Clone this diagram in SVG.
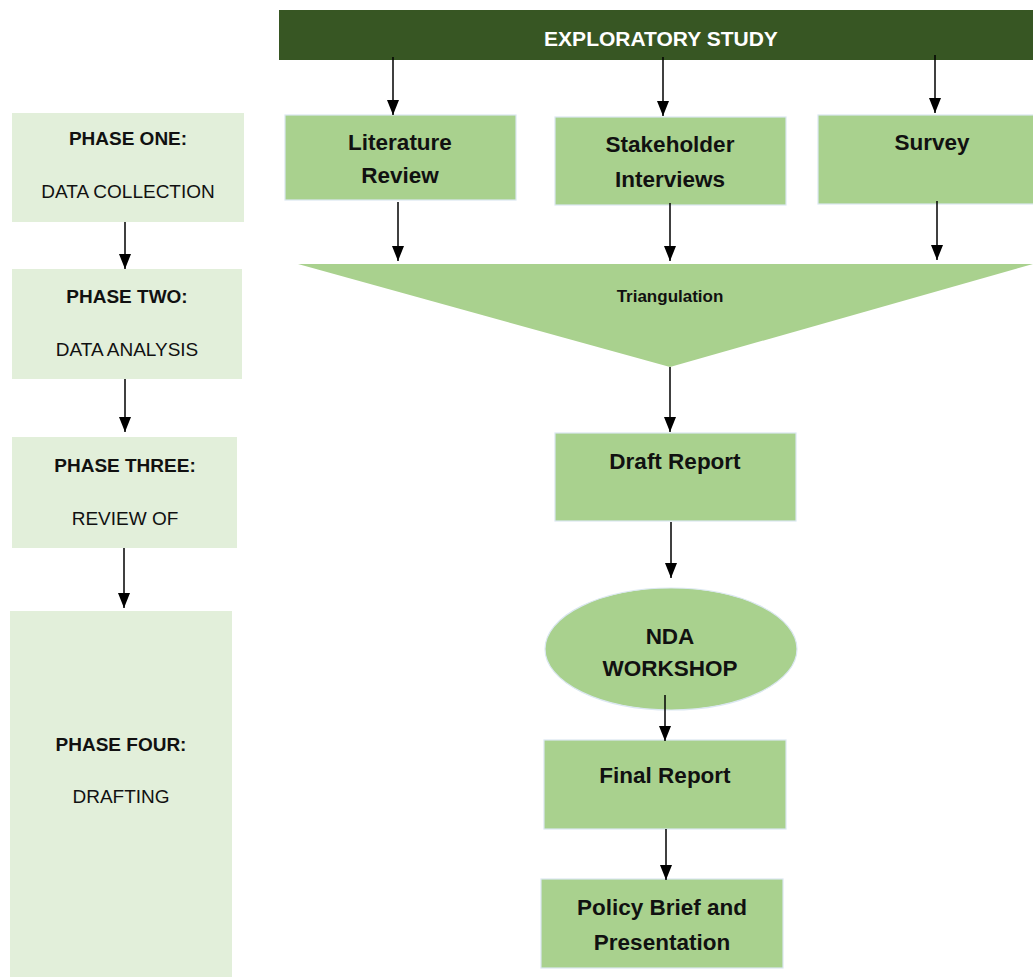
<svg xmlns="http://www.w3.org/2000/svg" width="1033" height="977" viewBox="0 0 1033 977">
<style>
.box{fill:#a9d18e;stroke:#dbe7f1;stroke-width:1.2}
.phase{fill:#e2efda}
.t{font-family:"Liberation Sans",Arial,sans-serif;font-weight:bold;fill:#111;text-anchor:middle}
.lb{font-size:22.5px}
.pb{font-family:"Liberation Sans",Arial,sans-serif;font-weight:bold;font-size:19px;fill:#111;text-anchor:middle}
.pr{font-family:"Liberation Sans",Arial,sans-serif;font-size:19px;fill:#111;text-anchor:middle}
.conn line{stroke:#000;stroke-width:1.5;marker-end:url(#ah)}
</style>
<defs>
<marker id="ah" markerWidth="15" markerHeight="12" refX="15" refY="6" orient="auto" markerUnits="userSpaceOnUse" viewBox="0 0 15 12">
<path d="M0,0 L15,6 L0,12 z" fill="#000"/>
</marker>
</defs>
<rect width="1033" height="977" fill="#fff"/>
<g id="exploratory">
<rect x="279" y="10" width="754" height="50" fill="#375623"/>
<text x="661" y="46" class="t" style="fill:#fff;font-size:21px">EXPLORATORY STUDY</text>
</g>
<g id="literature">
<rect class="box" x="285" y="115" width="231" height="85"/>
<text class="t lb" x="400" y="150">Literature</text>
<text class="t lb" x="400" y="183">Review</text>
</g>
<g id="stakeholder">
<rect class="box" x="555" y="117" width="231" height="88"/>
<text class="t lb" x="670" y="152">Stakeholder</text>
<text class="t lb" x="670" y="187">Interviews</text>
</g>
<g id="survey">
<rect class="box" x="818" y="115" width="220" height="89"/>
<text class="t lb" x="932" y="150">Survey</text>
</g>
<g id="triangulation">
<polygon points="298,264 1033,264 670,367" fill="#a9d18e"/>
<text class="t" style="font-size:17px" x="670" y="302">Triangulation</text>
</g>
<g id="draft">
<rect class="box" x="555" y="433" width="241" height="88"/>
<text class="t lb" x="675" y="469">Draft Report</text>
</g>
<g id="workshop">
<ellipse cx="671" cy="649" rx="126" ry="61" fill="#a9d18e" stroke="#dbe7f1" stroke-width="1.2"/>
<text class="t lb" x="670" y="644">NDA</text>
<text class="t lb" x="670" y="676">WORKSHOP</text>
</g>
<g id="final">
<rect class="box" x="544" y="740" width="242" height="89"/>
<text class="t lb" x="665" y="783">Final Report</text>
</g>
<g id="policy">
<rect class="box" x="541" y="879" width="242" height="89"/>
<text class="t lb" x="662" y="915">Policy Brief and</text>
<text class="t lb" x="662" y="950">Presentation</text>
</g>
<g id="phase1">
<rect class="phase" x="12" y="113" width="232" height="109"/>
<text class="pb" x="128" y="145">PHASE ONE:</text>
<text class="pr" x="128" y="198">DATA COLLECTION</text>
</g>
<g id="phase2">
<rect class="phase" x="12" y="269" width="230" height="110"/>
<text class="pb" x="127" y="303">PHASE TWO:</text>
<text class="pr" x="127" y="356">DATA ANALYSIS</text>
</g>
<g id="phase3">
<rect class="phase" x="12" y="437" width="225" height="111"/>
<text class="pb" x="125" y="472">PHASE THREE:</text>
<text class="pr" x="125" y="525">REVIEW OF</text>
</g>
<g id="phase4">
<rect class="phase" x="10" y="611" width="222" height="366"/>
<text class="pb" x="121" y="751">PHASE FOUR:</text>
<text class="pr" x="121" y="803">DRAFTING</text>
</g>
<g class="conn">
<line x1="393" y1="57" x2="393" y2="115"/>
<line x1="663" y1="57" x2="663" y2="116"/>
<line x1="935" y1="55" x2="935" y2="113"/>
<line x1="398" y1="202" x2="398" y2="261"/>
<line x1="670" y1="203" x2="670" y2="261"/>
<line x1="937" y1="201" x2="937" y2="260"/>
<line x1="670" y1="367" x2="670" y2="432"/>
<line x1="671" y1="522" x2="671" y2="578"/>
<line x1="665" y1="695" x2="665" y2="741"/>
<line x1="666" y1="829" x2="666" y2="880"/>
<line x1="125" y1="222" x2="125" y2="269"/>
<line x1="125" y1="379" x2="125" y2="432"/>
<line x1="124" y1="548" x2="124" y2="608"/>
</g>
</svg>
